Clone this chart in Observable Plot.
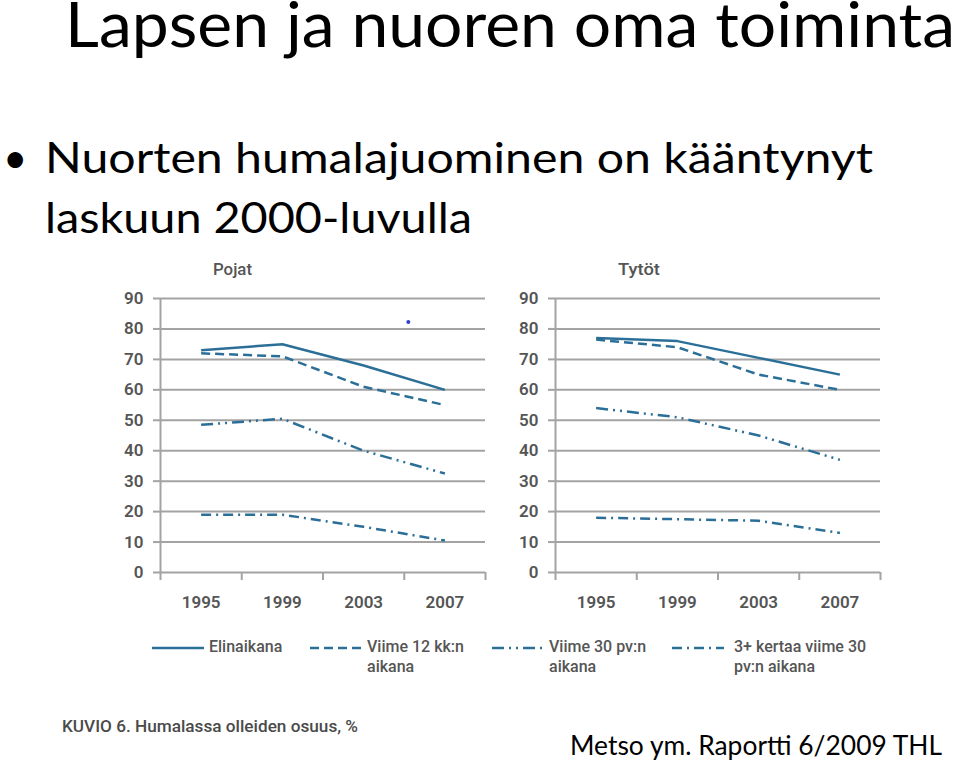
<!DOCTYPE html>
<html>
<head>
<meta charset="utf-8">
<script src="https://cdn.jsdelivr.net/npm/d3@7"></script>
<script src="https://cdn.jsdelivr.net/npm/@observablehq/plot@0.6"></script>
<style>
  html, body { margin: 0; padding: 0; background: #fff; }
  #page { position: relative; width: 960px; height: 761px; overflow: hidden; background: #fff; }
  .abs { position: absolute; white-space: nowrap; line-height: 1; z-index: 2; }
  .fit { display: inline-block; transform-origin: 0 0; }
  .slide { font-family: Lato, "Open Sans", sans-serif; color: #000; }
  .small { font-family: Roboto, "Open Sans", sans-serif; font-weight: 500; color: #555; }
  .legend-item { position: absolute; display: flex; align-items: flex-start; z-index: 2; }
  .legend-item svg { display: block; margin-top: 1px; }
  .legend-item .lab { font-family: Roboto, sans-serif; font-weight: 500; color: #555; font-size: 16px; line-height: 20px; margin-left: 5px; white-space: nowrap; }
  .chart { position: absolute; top: 255px; z-index: 1; }
</style>
</head>
<body>
<div id="page">
  <div id="chart-pojat" class="chart" style="left:100px;"></div>
  <div id="chart-tytot" class="chart" style="left:495px;"></div>

  <div class="abs slide" style="left:65px; top:0px; font-size:61px; line-height:47px;"><span class="fit" data-w="890">Lapsen ja nuoren oma toiminta</span></div>
  <div class="abs slide" style="left:3px; top:136px; font-size:42px;">•</div>
  <div class="abs slide" style="left:45px; top:136px; font-size:42px;"><span class="fit" data-w="828">Nuorten humalajuominen on kääntynyt</span></div>
  <div class="abs slide" style="left:45px; top:196px; font-size:42px;"><span class="fit" data-w="427">laskuun 2000-luvulla</span></div>

  <div class="abs small" style="left:213px; top:262px; font-size:16px;"><span class="fit" data-w="39">Pojat</span></div>
  <div class="abs small" style="left:618px; top:262px; font-size:16px;"><span class="fit" data-w="42">Tytöt</span></div>

  <div id="legend"></div>

  <div class="abs small" style="left:62px; top:718px; font-size:17px; color:#4a4a4a;"><span class="fit" data-w="296">KUVIO 6. Humalassa olleiden osuus, %</span></div>
  <div class="abs slide" style="left:570px; top:732px; font-size:26px;"><span class="fit" data-w="372">Metso ym. Raportti 6/2009 THL</span></div>
</div>
<script>
// ---- Data ----
const years = [1995, 1999, 2003, 2007];
const categoryEdges = [1993, 1997, 2001, 2005, 2009];
const yTicks = [0, 10, 20, 30, 40, 50, 60, 70, 80, 90];
const seriesNames = ["Elinaikana", "Viime 12 kk:n aikana", "Viime 30 pv:n aikana", "3+ kertaa viime 30 pv:n aikana"];
const legendLabels = ["Elinaikana", "Viime 12 kk:n<br>aikana", "Viime 30 pv:n<br>aikana", "3+ kertaa viime 30<br>pv:n aikana"];

// Pojat (boys), %
const pojatElinaikana = [73, 75, 68, 60];
const pojatViime12kk = [72, 71, 61, 55];
const pojatViime30pv = [48.5, 50.5, 40, 32.5];
const pojat3plus30pv = [19, 19, 15, 10.5];
const pojatStrayMarkerYear = [2005.2];
const pojatStrayMarkerValue = [82.3];

// Tytöt (girls), %
const tytotElinaikana = [77, 76, 70.5, 65];
const tytotViime12kk = [76.5, 74, 65, 60];
const tytotViime30pv = [54, 51, 45, 37];
const tytot3plus30pv = [18, 17.5, 17, 13];

// ---- Styles ----
const lineColor = "#2b6f98";
const gridColor = "#a3a3a3";
const dashes = ["none", "9,5", "12,5,2,5,2,5", "10,5,2,5"];

function rows(values) { return years.map((y, i) => ({year: y, value: values[i]})); }

function makeChart(seriesValues, extraMarks = []) {
  return Plot.plot({
    width: 400,
    height: 370,
    marginLeft: 60,
    marginRight: 15,
    marginTop: 43,
    marginBottom: 53,
    x: {domain: [categoryEdges[0], categoryEdges[categoryEdges.length - 1]]},
    y: {domain: [0, 90]},
    style: {fontFamily: "Roboto, sans-serif", fontWeight: 500, color: "#555", background: "transparent", overflow: "visible"},
    marks: [
      Plot.gridY(yTicks, {stroke: gridColor, strokeOpacity: 1, strokeWidth: 2}),
      Plot.axisY(yTicks, {label: null, tickSize: 7, tickPadding: 10, stroke: gridColor, strokeWidth: 2, fill: "#555", fontSize: 17, fontWeight: 600, tickFormat: d => String(d)}),
      Plot.ruleX([categoryEdges[0]], {y1: 0, y2: 90, stroke: gridColor, strokeWidth: 2}),
      Plot.axisX(categoryEdges, {label: null, tickSize: 8, tickFormat: () => "", stroke: gridColor, strokeWidth: 2}),
      Plot.axisX(years, {label: null, tickSize: 0, tickPadding: 23, fill: "#555", fontSize: 17, fontWeight: 600, tickFormat: d => String(d)}),
      ...seriesValues.map((vals, i) => Plot.line(rows(vals), {
        x: "year", y: "value", stroke: lineColor, strokeWidth: 2.5,
        strokeDasharray: dashes[i], strokeLinecap: "butt", title: () => seriesNames[i]
      })),
      ...extraMarks
    ]
  });
}

document.getElementById("chart-pojat").appendChild(makeChart(
  [pojatElinaikana, pojatViime12kk, pojatViime30pv, pojat3plus30pv],
  [Plot.dot(pojatStrayMarkerYear.map((y, i) => ({year: y, value: pojatStrayMarkerValue[i]})), {x: "year", y: "value", r: 2, fill: "#3040d0", stroke: "none"})]
));
document.getElementById("chart-tytot").appendChild(makeChart(
  [tytotElinaikana, tytotViime12kk, tytotViime30pv, tytot3plus30pv]
));

// ---- Legend ----
const legendPos = [[152, 52], [310, 52], [492, 52], [672, 52]];
const legend = document.getElementById("legend");
seriesNames.forEach((name, i) => {
  const item = document.createElement("div");
  item.className = "legend-item";
  item.style.left = legendPos[i][0] + "px";
  item.style.top = "637px";
  const w = legendPos[i][1];
  item.innerHTML = `<svg width="${w}" height="20"><line x1="0" x2="${w}" y1="10" y2="10" stroke="${lineColor}" stroke-width="2.5" stroke-dasharray="${dashes[i]}"/></svg><div class="lab">${legendLabels[i]}</div>`;
  if (i === 3) item.querySelector(".lab").style.marginLeft = "10px";
  legend.appendChild(item);
});

function fit() {
  document.querySelectorAll(".fit").forEach(el => {
    el.style.transform = "none";
    const w = el.getBoundingClientRect().width;
    const target = +el.dataset.w;
    if (w > 0) el.style.transform = `scaleX(${target / w})`;
  });
}
fit();
if (document.fonts && document.fonts.ready) document.fonts.ready.then(fit);
</script>
</body>
</html>
